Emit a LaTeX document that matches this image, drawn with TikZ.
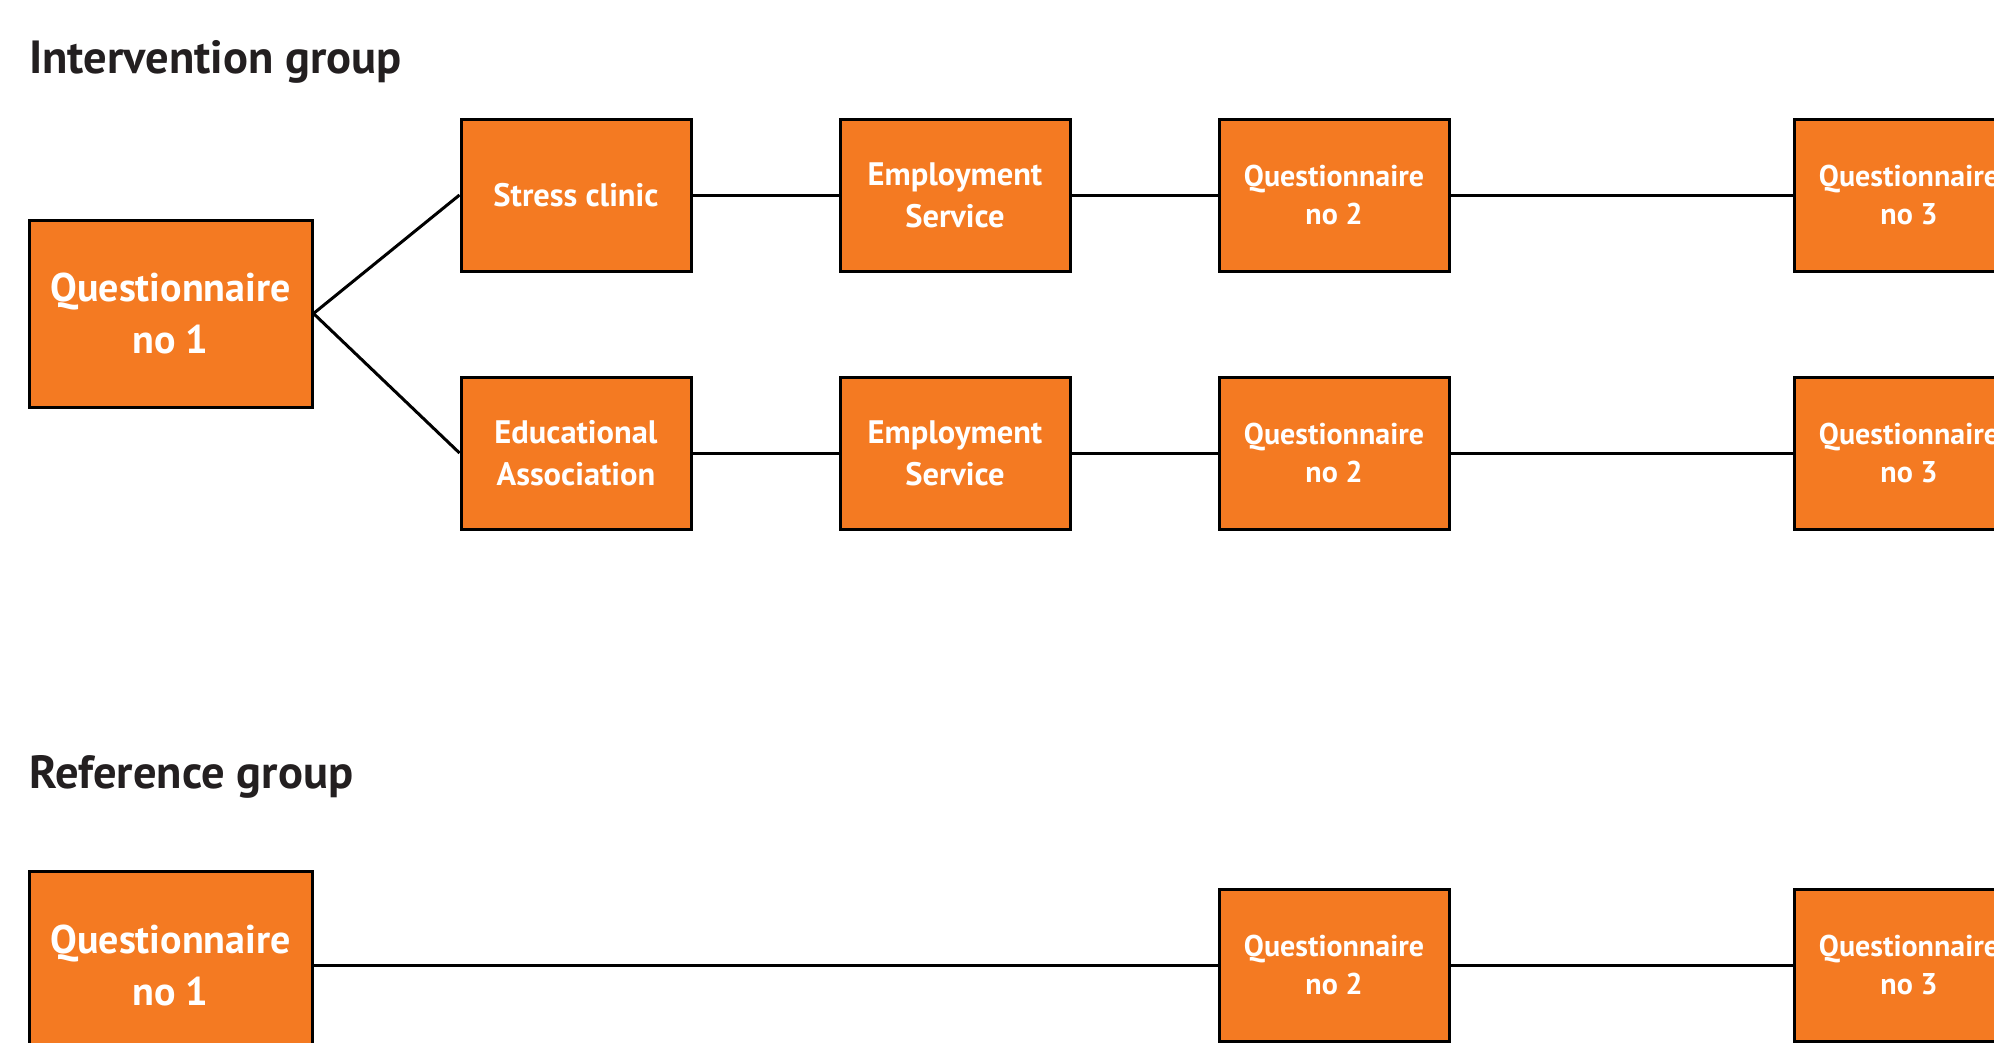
\documentclass[tikz,border=0pt]{standalone}
\usepackage{fontspec}
\setmainfont{PT Sans}
\definecolor{boxorange}{HTML}{F47A22}
\definecolor{titleink}{HTML}{231F20}
\begin{document}
\begin{tikzpicture}[x=1pt,y=-1pt,
  boxbase/.style={draw=black, line width=3pt, fill=boxorange, text=white, align=center, inner sep=0pt},
  bigbox/.style={boxbase, minimum width=283pt, minimum height=187pt, font=\fontsize{40}{52}\selectfont\bfseries},
  midbox/.style={boxbase, minimum width=230pt, minimum height=152pt, font=\fontsize{32.5}{42}\selectfont\bfseries},
  smallbox/.style={boxbase, minimum width=230pt, minimum height=152pt, font=\fontsize{30}{38}\selectfont\bfseries},
  title/.style={anchor=base west, inner sep=0pt, text=titleink, font=\fontsize{46.5}{50}\selectfont\bfseries},
  link/.style={draw=black, line width=3pt}]
\useasboundingbox (0,0) rectangle (1994,1042);
\clip (0,0) rectangle (1994,1042);
\fill[white] (0,0) rectangle (1994,1042);
% titles
\node[title] (tint) at (29,73) {Intervention group};
\node[title] (tref) at (29,788) {Reference group};
% intervention group
\node[bigbox] (q1) at (170.5,313.5) {Questionnaire\\no 1};
\node[midbox] (sc) at (576,195) {Stress clinic};
\node[midbox] (es1) at (955,195) {Employment\\Service};
\node[smallbox] (q2a) at (1334,195) {Questionnaire\\no 2};
\node[smallbox] (q3a) at (1909,195) {Questionnaire\\no 3};
\node[midbox] (ea) at (576,453) {Educational\\Association};
\node[midbox] (es2) at (955,453) {Employment\\Service};
\node[smallbox] (q2b) at (1334,453) {Questionnaire\\no 2};
\node[smallbox] (q3b) at (1909,453) {Questionnaire\\no 3};
\draw[link] (q1.east) -- (sc.west);
\draw[link] (q1.east) -- (ea.west);
\draw[link] (sc) -- (es1);
\draw[link] (es1) -- (q2a);
\draw[link] (q2a) -- (q3a);
\draw[link] (ea) -- (es2);
\draw[link] (es2) -- (q2b);
\draw[link] (q2b) -- (q3b);
% reference group
\node[bigbox] (rq1) at (170.5,965) {Questionnaire\\no 1};
\node[smallbox] (rq2) at (1334,965) {Questionnaire\\no 2};
\node[smallbox] (rq3) at (1909,965) {Questionnaire\\no 3};
\draw[link] (rq1) -- (rq2);
\draw[link] (rq2) -- (rq3);
\end{tikzpicture}
\end{document}
